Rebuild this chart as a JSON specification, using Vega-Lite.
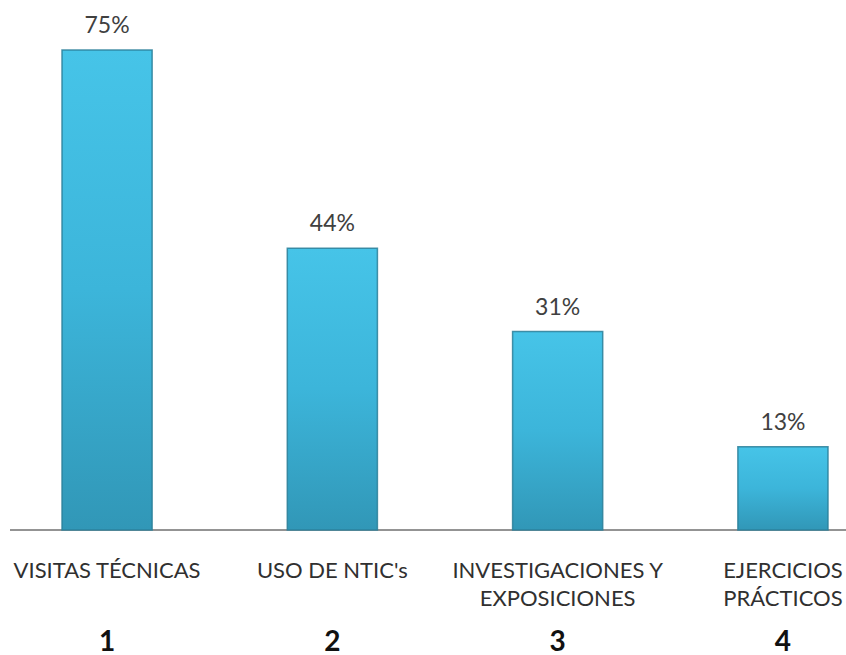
{
  "$schema": "https://vega.github.io/schema/vega-lite/v6.json",
  "width": 836,
  "height": 530,
  "autosize": "none",
  "padding": {"left": 10, "top": 0, "right": 0, "bottom": 125},
  "background": "white",
  "config": {"view": {"stroke": null}, "font": "Lato"},
  "data": {
    "values": [
      {"cat": "VISITAS TÉCNICAS", "pct": 0.75},
      {"cat": "USO DE NTIC's", "pct": 0.44},
      {"cat": "INVESTIGACIONES Y|EXPOSICIONES", "pct": 0.31},
      {"cat": "EJERCICIOS|PRÁCTICOS", "pct": 0.13}
    ]
  },
  "layer": [
    {
      "mark": {"type": "rule", "color": "#8c8c8c", "strokeWidth": 1},
      "encoding": {
        "y": {"datum": 0, "type": "quantitative", "scale": {"domain": [0, 0.828], "nice": false}, "axis": null}
      }
    },
    {
      "mark": {
        "type": "bar",
        "stroke": "#2a7f99",
        "strokeWidth": 1.5,
        "strokeOpacity": 0.85,
        "color": {
          "gradient": "linear",
          "x1": 0, "y1": 0, "x2": 0, "y2": 1,
          "stops": [
            {"offset": 0, "color": "#46C4E8"},
            {"offset": 0.5, "color": "#3CB5DA"},
            {"offset": 1, "color": "#3197B7"}
          ]
        }
      },
      "encoding": {
        "x": {
          "field": "cat", "type": "nominal", "sort": null,
          "scale": {"range": [52, 818], "paddingInner": 0.6, "paddingOuter": 0},
          "axis": {
            "orient": "bottom",
            "title": null, "domain": false, "ticks": false, "grid": false,
            "labelExpr": "split(datum.label, '|')",
            "labelFont": "Lato", "labelFontSize": 22, "labelColor": "#303030",
            "labelPadding": 30, "labelLineHeight": 28, "labelAngle": 0, "labelLimit": 0,
            "labelBaseline": "top", "labelOverlap": false, "labelBound": false, "labelFlush": false
          }
        },
        "y": {"field": "pct", "type": "quantitative", "scale": {"domain": [0, 0.828], "nice": false}, "axis": null}
      }
    },
    {
      "mark": {"type": "text", "dy": -17, "baseline": "alphabetic", "fontSize": 23, "color": "#404040", "font": "Lato"},
      "encoding": {
        "x": {
          "field": "cat", "type": "nominal", "sort": null,
          "scale": {"range": [52, 818], "paddingInner": 0.6, "paddingOuter": 0},
          "axis": {
            "orient": "bottom",
            "title": null, "domain": false, "ticks": false, "grid": false,
            "labelExpr": "indexof(domain('x'), datum.value) + 1",
            "labelFont": "Lato", "labelFontSize": 28, "labelFontWeight": "bold", "labelColor": "#111111",
            "labelPadding": 98, "labelAngle": 0, "labelBaseline": "top", "labelLimit": 0,
            "labelOverlap": false, "labelBound": false, "labelFlush": false
          }
        },
        "y": {"field": "pct", "type": "quantitative", "scale": {"domain": [0, 0.828], "nice": false}, "axis": null},
        "text": {"field": "pct", "type": "quantitative", "format": ".0%"}
      }
    }
  ],
  "resolve": {"axis": {"x": "independent"}}
}
